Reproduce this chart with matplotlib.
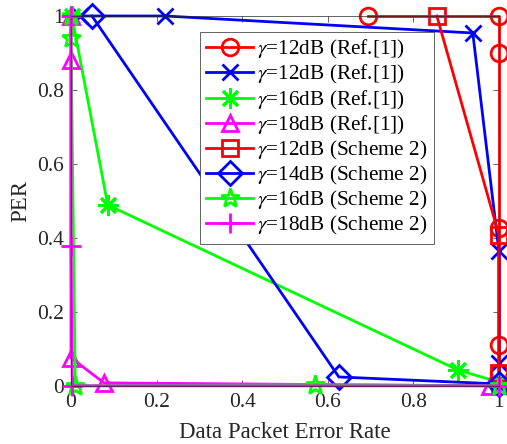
import numpy as np
import matplotlib
matplotlib.use('Agg')
import matplotlib.pyplot as plt

plt.rcParams['font.family'] = ['Liberation Serif', 'DejaVu Serif']
plt.rcParams['mathtext.fontset'] = 'stix'

# gamma=12dB, Ref.[1]
x_ref12a = [0.694, 1.0, 1.0, 1.0, 1.0, 1.0, 1.0]
y_ref12a = [1.0, 1.0, 0.90, 0.427, 0.11, 0.035, 0.0]
# gamma=12dB, Ref.[1] (second curve)
x_ref12b = [0.02, 0.22, 0.939, 1.0, 1.0, 1.0]
y_ref12b = [1.0, 1.0, 0.954, 0.365, 0.062, 0.0]
# gamma=16dB, Ref.[1]
x_ref16 = [0.002, 0.086, 0.904, 1.0]
y_ref16 = [1.0, 0.489, 0.043, 0.01]
# gamma=18dB, Ref.[1]
x_ref18 = [0.0, 0.0, 0.0, 0.077, 0.98]
y_ref18 = [1.0, 0.88, 0.076, 0.008, 0.0]
# gamma=12dB, Scheme 2
x_s12 = [0.855, 1.0, 1.0]
y_s12 = [1.0, 0.408, 0.035]
# gamma=14dB, Scheme 2
x_s14 = [0.049, 0.626, 1.0]
y_s14 = [1.0, 0.024, 0.005]
# gamma=16dB, Scheme 2
x_s16 = [0.0, 0.0, 0.01, 0.57, 1.0]
y_s16 = [1.0, 0.94, 0.0, 0.003, 0.0]
# gamma=18dB, Scheme 2
x_s18 = [0.0, 0.0, 0.003, 1.0]
y_s18 = [1.0, 0.378, 0.0, 0.0]

labels = [r'$\gamma$=12dB (Ref.[1])', r'$\gamma$=12dB (Ref.[1])',
          r'$\gamma$=16dB (Ref.[1])', r'$\gamma$=18dB (Ref.[1])',
          r'$\gamma$=12dB (Scheme 2)', r'$\gamma$=14dB (Scheme 2)',
          r'$\gamma$=16dB (Scheme 2)', r'$\gamma$=18dB (Scheme 2)']

fig = plt.figure(figsize=(5.07, 4.44), dpi=100)
ax = fig.add_axes([0.140, 0.131, 0.844, 0.833])

kw = dict(lw=2, ms=12, mew=2, mfc='none', clip_on=False)
asterisk = (8, 2, 0)
ax.plot(x_ref12a, y_ref12a, color=(1, 0, 0), marker='o', label=labels[0], **kw)
ax.plot(x_ref12b, y_ref12b, color=(0, 0, 1), marker='x', label=labels[1], **kw)
ax.plot(x_ref16, y_ref16, color=(0, 1, 0), marker=asterisk, label=labels[2],
        **dict(kw, ms=15))
ax.plot(x_ref18, y_ref18, color=(1, 0, 1), marker='^', label=labels[3], **kw)
ax.plot(x_s12, y_s12, color=(1, 0, 0), marker='s', label=labels[4], **kw)
ax.plot(x_s14, y_s14, color=(0, 0, 1), marker='D', label=labels[5], **kw)
ax.plot(x_s16, y_s16, color=(0, 1, 0), marker='*', label=labels[6],
        **dict(kw, ms=14))
ax.plot(x_s18, y_s18, color=(1, 0, 1), marker='+', label=labels[7],
        **dict(kw, ms=14))

ax.set_xlim(0, 1)
ax.set_ylim(0, 1)
ax.set_xticks(np.arange(0, 1.01, 0.2))
ax.set_yticks(np.arange(0, 1.01, 0.2))
ax.set_xticklabels(['0', '0.2', '0.4', '0.6', '0.8', '1'])
ax.set_yticklabels(['0', '0.2', '0.4', '0.6', '0.8', '1'])
ax.tick_params(direction='in', length=4, width=0.5, top=True, right=True,
               labelsize=15.5, colors='0.15', pad=5)
for sp in ax.spines.values():
    sp.set_linewidth(0.5)
    sp.set_color('0.15')

ax.set_xlabel('Data Packet Error Rate', fontsize=16.5, color='0.15', labelpad=7)
ax.set_ylabel('PER', fontsize=16.5, color='0.15', labelpad=4)

leg = ax.legend(loc='upper left', bbox_to_anchor=(0.301, 0.957), borderaxespad=0,
                fontsize=15.3, fancybox=False, edgecolor='0.15', framealpha=1,
                handlelength=2.2, handletextpad=0.2, labelspacing=0.1,
                borderpad=0.3)
leg.get_frame().set_linewidth(0.5)

fig.savefig('out.png', dpi=100)
